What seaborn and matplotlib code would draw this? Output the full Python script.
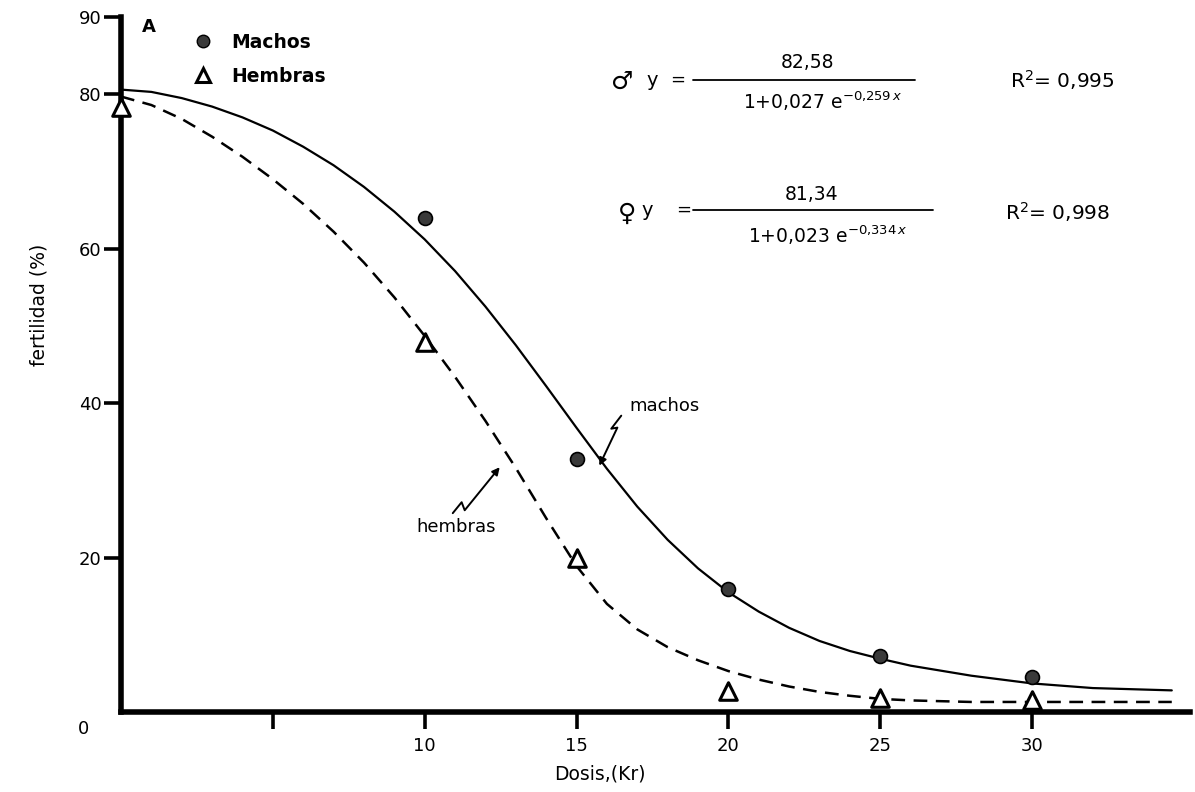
import matplotlib
matplotlib.use("Agg")
import matplotlib.pyplot as plt
import matplotlib.transforms as mtransforms
from matplotlib.lines import Line2D
from matplotlib.path import Path
from matplotlib.patches import FancyArrowPatch
import seaborn as sns

# Observed fertility (%) by irradiation dose (Kr)
dosis = [0, 10, 15, 20, 25, 30]
machos_obs_x = [10, 15, 20, 25, 30]
machos_obs = [64.0, 32.8, 15.9, 7.3, 4.5]
hembras_obs = [78.4, 47.9, 19.9, 2.7, 1.8, 1.6]

# Fitted logistic curves, sampled along the dose axis
curva_x = [0, 1, 2, 3, 4, 5, 6, 7, 8, 9, 10, 11, 12, 13, 14, 15, 16, 17, 18,
           19, 20, 21, 22, 23, 24, 25, 26, 28, 30, 32, 34.6]
machos_fit = [80.6, 80.3, 79.5, 78.4, 77.0, 75.3, 73.2, 70.8, 68.0, 64.8, 61.2,
              57.1, 52.5, 47.5, 42.2, 36.8, 31.5, 26.6, 22.3, 18.6, 15.5, 13.0,
              10.9, 9.2, 7.9, 6.9, 6.0, 4.7, 3.7, 3.1, 2.8]
hembras_fit = [79.7, 78.6, 76.8, 74.5, 71.9, 69.0, 65.8, 62.2, 58.2, 53.7, 48.7,
               43.4, 37.7, 31.6, 25.1, 18.9, 14.0, 10.7, 8.4, 6.7, 5.3, 4.2,
               3.3, 2.6, 2.1, 1.7, 1.5, 1.3, 1.3, 1.3, 1.3]

x_ticks = [5, 10, 15, 20, 25, 30]
x_ticklabels = ["", "10", "15", "20", "25", "30"]
y_ticks = [20, 40, 60, 80, 90]
y_ticklabels = ["20", "40", "60", "80", "90"]

sns.set_style("ticks")
plt.rcParams["font.family"] = ["DejaVu Sans"]
plt.rcParams["mathtext.fontset"] = "dejavusans"
plt.rcParams["text.color"] = "black"
plt.rcParams["axes.labelcolor"] = "black"
plt.rcParams["xtick.color"] = "black"
plt.rcParams["ytick.color"] = "black"

W, H = 1195, 792
fig = plt.figure(figsize=(W / 100, H / 100), dpi=100)
ax = fig.add_axes([121 / W, 80 / H, (1190 - 121) / W, (712 - 17) / H])

sns.lineplot(x=curva_x, y=machos_fit, ax=ax, color="black", lw=1.6,
             estimator=None, sort=False, zorder=2)
sns.lineplot(x=curva_x, y=hembras_fit, ax=ax, color="black", lw=1.8,
             estimator=None, sort=False, linestyle=(0, (5.5, 3.4)), zorder=2)

sns.scatterplot(x=machos_obs_x, y=machos_obs, ax=ax, marker="o", s=100,
                color="#3a3a3a", edgecolor="black", linewidth=1.2,
                zorder=4, clip_on=False)
sns.scatterplot(x=dosis, y=hembras_obs, ax=ax, marker="^", s=160,
                facecolor="white", edgecolor="black", linewidth=2.2,
                zorder=5, clip_on=False)

ax.set_xlim(0, 35.2)
ax.set_ylim(0, 90)
ax.set_xticks(x_ticks)
ax.set_xticklabels(x_ticklabels)
ax.set_yticks(y_ticks)
ax.set_yticklabels(y_ticklabels)
ax.tick_params(axis="both", direction="out", length=12, width=2.6,
               labelsize=13, color="black", labelcolor="black")
ax.tick_params(axis="x", pad=6)
ax.tick_params(axis="y", pad=2)

for side in ("top", "right"):
    ax.spines[side].set_visible(False)
for side in ("left", "bottom"):
    ax.spines[side].set_linewidth(4.0)
    ax.spines[side].set_color("black")
    ax.spines[side].set_zorder(3)

ax.annotate("0", xy=(0, 0), xycoords="data", xytext=(-27, -12),
            textcoords="offset points", ha="center", va="center",
            fontsize=13, annotation_clip=False)

ax.set_xlabel("Dosis,(Kr)", fontsize=13.5)
ax.xaxis.set_label_coords((600 - 121) / (1190 - 121), -0.076)
ax.set_ylabel("fertilidad (%)", fontsize=13.5)
ax.yaxis.set_label_coords(-0.068, (712 - 305) / (712 - 17))

# Panel letter
ax.text(0.02, 0.985, "A", transform=ax.transAxes, fontsize=13,
        fontweight="bold", ha="left", va="center")

# Legend
handles = [
    Line2D([], [], marker="o", linestyle="none", markersize=9,
           markerfacecolor="#3a3a3a", markeredgecolor="black",
           markeredgewidth=1.0, label="Machos"),
    Line2D([], [], marker="^", linestyle="none", markersize=10.5,
           markerfacecolor="white", markeredgecolor="black",
           markeredgewidth=2.2, label="Hembras"),
]
leg = ax.legend(handles=handles, loc="upper left",
                bbox_to_anchor=((194 - 121) / (1190 - 121), (712 - 33) / 695),
                frameon=False, handlelength=1.0, handletextpad=1.0,
                labelspacing=0.78, borderpad=0, borderaxespad=0,
                prop={"weight": "bold", "size": 13.5})


def fx(px):
    return px / W


def fy(py):
    return 1 - py / H


# Fitted equations
fig.text(fx(622), fy(82), "\u2642", fontsize=18, ha="center", va="center")
fig.text(fx(652), fy(80), "y", fontsize=14, ha="center", va="center")
fig.text(fx(678), fy(80), "=", fontsize=13, ha="center", va="center")
fig.add_artist(Line2D([fx(693), fx(915)], [fy(80), fy(80)], color="black", lw=1.3))
fig.text(fx(808), fy(62), "82,58", fontsize=13.5, ha="center", va="center")
fig.text(fx(822), fy(101), r"1+0,027 e$^{-0{,}259\,x}$", fontsize=13.5,
         ha="center", va="center")
fig.text(fx(1062), fy(80), r"R$^{2}$= 0,995", fontsize=14.5, ha="center",
         va="center")

fig.text(fx(627), fy(214), "\u2640", fontsize=18, ha="center", va="center")
fig.text(fx(647), fy(210), "y", fontsize=14, ha="center", va="center")
fig.text(fx(684), fy(210), "=", fontsize=13, ha="center", va="center")
fig.add_artist(Line2D([fx(693), fx(933)], [fy(210), fy(210)], color="black", lw=1.3))
fig.text(fx(812), fy(194), "81,34", fontsize=13.5, ha="center", va="center")
fig.text(fx(828), fy(235), r"1+0,023 e$^{-0{,}334\,x}$", fontsize=13.5,
         ha="center", va="center")
fig.text(fx(1058), fy(212), r"R$^{2}$= 0,998", fontsize=14.5, ha="center",
         va="center")


def squiggle_arrow(x, y, verts_pt):
    """Lightning-bolt leader ending in an arrow head at data point (x, y)."""
    trans = (mtransforms.Affine2D().scale(1 / 72.0) + fig.dpi_scale_trans
             + mtransforms.ScaledTranslation(x, y, ax.transData))
    codes = [Path.MOVETO] + [Path.LINETO] * (len(verts_pt) - 1)
    arrow = FancyArrowPatch(path=Path(verts_pt, codes), arrowstyle="-|>",
                            mutation_scale=11, color="black", lw=1.4,
                            transform=trans, zorder=6)
    fig.add_artist(arrow)


ax.text(17.9, 39.6, "machos", fontsize=13, ha="center", va="center")
squiggle_arrow(15.75, 31.9, [(15.8, 36.0), (8.6, 26.6), (13.0, 27.4), (0, 0)])

ax.text(11.05, 23.9, "hembras", fontsize=13, ha="center", va="center")
squiggle_arrow(12.47, 31.7, [(-33.8, -33.1), (-27.4, -25.2), (-25.2, -31.0), (0, 0)])

fig.savefig("out.png", dpi=100, facecolor="white")
